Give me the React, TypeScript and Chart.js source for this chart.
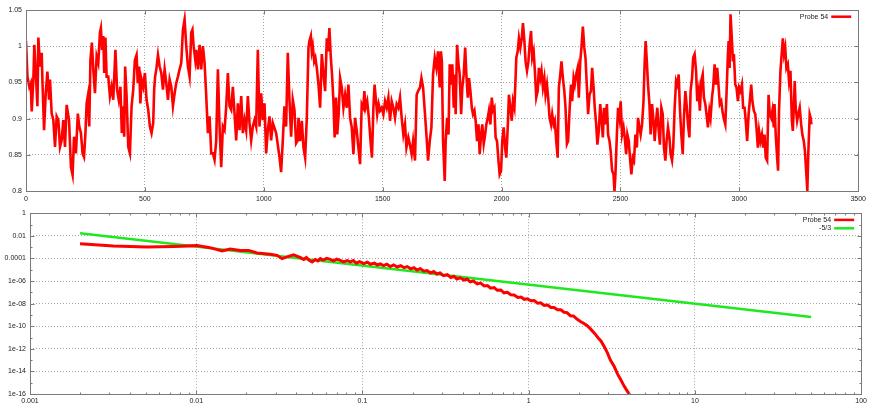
import React, { useEffect, useRef } from 'react';
import { Chart, registerables } from 'chart.js';

Chart.register(...registerables);

// ---------- Top panel: probe signal over time ----------
const probe54Samples: [number, number][] = [
  [0, 1.007], [6, 0.958], [14, 0.944], [20, 0.949], [24, 0.91], [31, 0.954], [35, 1.002], [42, 0.958], [48, 0.917], [52, 1.012],
  [59, 0.972], [66, 0.991], [69, 0.954], [76, 0.884], [83, 0.935], [90, 0.965], [97, 0.926], [101, 0.954], [108, 0.907], [115, 0.898],
  [122, 0.861], [129, 0.903], [136, 0.898], [143, 0.861], [150, 0.87], [157, 0.898], [164, 0.861], [171, 0.919], [181, 0.898], [189, 0.833],
  [196, 0.822], [202, 0.875], [210, 0.852], [218, 0.907], [224, 0.889], [231, 0.88], [238, 0.852], [244, 0.847], [250, 0.88], [255, 0.921],
  [260, 0.931], [266, 0.889], [271, 0.981], [277, 1.005], [283, 0.968], [290, 0.935], [297, 0.986], [304, 0.977], [311, 1.019], [315, 1.025],
  [320, 0.995], [325, 1.014], [329, 0.963], [334, 1.012], [339, 0.958], [346, 0.958], [353, 0.931], [360, 0.944], [367, 0.926], [376, 0.995],
  [383, 0.94], [390, 0.926], [397, 0.944], [403, 0.88], [409, 0.917], [413, 0.875], [417, 0.972], [423, 0.931], [430, 0.861], [437, 0.852],
  [444, 0.917], [451, 0.94], [458, 0.981], [465, 0.988], [470, 0.949], [476, 0.972], [481, 0.921], [486, 0.954], [493, 0.944], [500, 0.963],
  [507, 0.926], [514, 0.912], [521, 0.889], [528, 0.88], [535, 0.894], [539, 0.94], [543, 0.958], [548, 0.968], [555, 0.988], [562, 0.972],
  [569, 0.963], [576, 0.94], [583, 0.968], [590, 0.949], [597, 0.926], [604, 0.954], [611, 0.944], [618, 0.917], [625, 0.935], [632, 0.949],
  [639, 0.958], [646, 0.968], [653, 0.977], [660, 1.023], [667, 1.037], [674, 1.0], [681, 0.972], [688, 0.958], [695, 1.019], [700, 1.023],
  [705, 1.0], [712, 0.981], [716, 0.995], [723, 0.968], [730, 1.002], [737, 0.968], [744, 1.0], [751, 0.977], [758, 0.931], [765, 0.88],
  [772, 0.903], [779, 0.852], [786, 0.852], [793, 0.843], [800, 0.87], [807, 0.968], [814, 0.889], [821, 0.833], [828, 0.889], [835, 0.884],
  [842, 0.917], [849, 0.963], [856, 0.917], [863, 0.912], [870, 0.944], [877, 0.907], [884, 0.87], [891, 0.921], [898, 0.884], [905, 0.931],
  [912, 0.88], [919, 0.898], [926, 0.884], [933, 0.931], [940, 0.894], [947, 0.87], [954, 0.889], [961, 0.898], [968, 0.889], [975, 0.995],
  [982, 0.889], [989, 0.935], [996, 0.898], [1003, 0.921], [1010, 0.852], [1017, 0.884], [1024, 0.903], [1031, 0.87], [1038, 0.894], [1052, 0.88],
  [1066, 0.847], [1073, 0.826], [1080, 0.87], [1087, 0.917], [1094, 0.889], [1101, 0.991], [1108, 0.926], [1115, 0.875], [1122, 0.926], [1129, 0.912],
  [1136, 0.866], [1143, 0.87], [1146, 0.901], [1153, 0.869], [1160, 0.897], [1167, 0.86], [1174, 0.846], [1181, 0.901], [1188, 0.998], [1192, 1.007],
  [1198, 1.014], [1202, 0.993], [1206, 1.0], [1212, 0.979], [1217, 0.984], [1223, 0.97], [1230, 0.947], [1237, 0.915], [1244, 0.989], [1251, 0.961],
  [1258, 0.938], [1265, 1.011], [1270, 0.993], [1276, 1.025], [1282, 0.984], [1287, 0.961], [1293, 0.924], [1298, 0.874], [1304, 0.929], [1309, 0.878],
  [1315, 0.906], [1321, 0.956], [1328, 0.943], [1335, 0.915], [1342, 0.933], [1349, 0.915], [1356, 0.947], [1363, 0.901], [1370, 0.888], [1377, 0.851],
  [1384, 0.901], [1391, 0.883], [1398, 0.86], [1405, 0.837], [1412, 0.92], [1419, 0.915], [1423, 0.938], [1428, 0.915], [1435, 0.924], [1442, 0.901],
  [1449, 0.869], [1455, 0.846], [1461, 0.915], [1466, 0.947], [1472, 0.924], [1477, 0.906], [1483, 0.92], [1489, 0.911], [1496, 0.915], [1503, 0.906],
  [1510, 0.924], [1517, 0.915], [1524, 0.929], [1531, 0.897], [1538, 0.924], [1545, 0.915], [1552, 0.901], [1559, 0.92], [1566, 0.915], [1573, 0.929],
  [1580, 0.901], [1587, 0.878], [1594, 0.892], [1600, 0.86], [1608, 0.874], [1614, 0.865], [1622, 0.851], [1628, 0.869], [1636, 0.842], [1643, 0.933],
  [1649, 0.938], [1657, 0.943], [1663, 0.956], [1670, 0.943], [1677, 0.911], [1684, 0.878], [1691, 0.842], [1698, 0.869], [1705, 0.888], [1712, 0.961],
  [1719, 0.984], [1726, 0.97], [1733, 0.993], [1740, 0.943], [1745, 0.993], [1749, 0.979], [1754, 0.869], [1761, 0.814], [1765, 0.869], [1771, 0.901],
  [1777, 0.878], [1782, 0.975], [1788, 0.947], [1793, 0.975], [1799, 0.915], [1803, 0.961], [1807, 0.906], [1813, 1.002], [1819, 0.975], [1824, 0.961],
  [1830, 0.906], [1835, 0.943], [1841, 0.961], [1847, 0.998], [1852, 0.961], [1858, 0.929], [1863, 0.956], [1869, 0.938], [1875, 0.915], [1880, 0.906],
  [1886, 0.911], [1891, 0.897], [1897, 0.869], [1903, 0.892], [1908, 0.851], [1914, 0.878], [1919, 0.892], [1925, 0.865], [1931, 0.878], [1936, 0.892],
  [1942, 0.901], [1947, 0.911], [1953, 0.892], [1959, 0.929], [1964, 0.911], [1970, 0.915], [1975, 0.874], [1981, 0.869], [1987, 0.842], [1992, 0.823],
  [1998, 0.828], [2003, 0.869], [2009, 0.888], [2015, 0.86], [2020, 0.846], [2026, 0.888], [2031, 0.933], [2037, 0.915], [2043, 0.897], [2048, 0.924],
  [2054, 0.915], [2059, 0.956], [2062, 0.984], [2068, 0.993], [2073, 1.011], [2079, 0.998], [2085, 1.011], [2090, 1.032], [2096, 1.007], [2101, 0.979],
  [2107, 0.966], [2113, 0.979], [2118, 1.002], [2124, 1.021], [2129, 0.984], [2135, 0.993], [2141, 0.961], [2146, 0.929], [2152, 0.938], [2157, 0.97],
  [2163, 0.956], [2168, 0.966], [2174, 0.943], [2180, 0.956], [2185, 0.933], [2191, 0.947], [2196, 0.929], [2202, 0.901], [2208, 0.892], [2213, 0.906],
  [2219, 0.892], [2224, 0.897], [2230, 0.869], [2236, 0.846], [2241, 0.943], [2247, 0.961], [2252, 0.979], [2258, 0.956], [2264, 0.938], [2269, 0.915],
  [2275, 0.865], [2280, 0.869], [2286, 0.911], [2292, 0.947], [2297, 0.924], [2303, 0.956], [2308, 0.947], [2314, 0.961], [2320, 0.97], [2325, 0.929],
  [2331, 0.979], [2336, 0.998], [2342, 1.027], [2348, 0.998], [2353, 0.984], [2359, 0.943], [2364, 0.906], [2370, 0.933], [2376, 0.938], [2381, 0.97],
  [2387, 0.943], [2392, 0.915], [2398, 0.892], [2403, 0.864], [2409, 0.883], [2415, 0.92], [2420, 0.901], [2426, 0.874], [2431, 0.915], [2437, 0.892],
  [2443, 0.92], [2448, 0.878], [2454, 0.869], [2459, 0.855], [2465, 0.828], [2471, 0.823], [2475, 0.8], [2479, 0.823], [2485, 0.878], [2490, 0.915],
  [2496, 0.901], [2501, 0.924], [2507, 0.878], [2513, 0.888], [2518, 0.874], [2524, 0.851], [2529, 0.878], [2535, 0.869], [2541, 0.842], [2546, 0.823],
  [2552, 0.846], [2557, 0.842], [2563, 0.878], [2569, 0.86], [2574, 0.901], [2580, 0.888], [2585, 0.878], [2591, 0.892], [2597, 0.924], [2602, 0.979],
  [2606, 1.007], [2611, 0.979], [2616, 0.947], [2622, 0.92], [2627, 0.878], [2633, 0.92], [2639, 0.897], [2644, 0.869], [2650, 0.897], [2655, 0.915],
  [2661, 0.883], [2666, 0.864], [2672, 0.915], [2678, 0.906], [2683, 0.86], [2689, 0.842], [2694, 0.869], [2700, 0.888], [2706, 0.874], [2711, 0.851],
  [2717, 0.842], [2722, 0.86], [2728, 0.915], [2734, 0.952], [2739, 0.947], [2745, 0.961], [2750, 0.915], [2756, 0.878], [2762, 0.851], [2767, 0.901],
  [2773, 0.938], [2778, 0.92], [2784, 0.892], [2790, 0.874], [2795, 0.938], [2801, 0.956], [2806, 0.984], [2812, 0.989], [2818, 0.966], [2823, 0.924],
  [2829, 0.938], [2834, 0.911], [2840, 0.952], [2846, 0.961], [2851, 0.929], [2857, 0.92], [2862, 0.906], [2868, 0.888], [2874, 0.911], [2879, 0.901],
  [2885, 0.929], [2890, 0.943], [2896, 0.975], [2902, 0.947], [2907, 0.97], [2913, 0.943], [2918, 0.92], [2924, 0.924], [2930, 0.908], [2935, 0.9],
  [2941, 0.892], [2946, 0.933], [2952, 0.989], [2955, 1.007], [2959, 0.97], [2963, 1.044], [2969, 1.007], [2973, 0.979], [2977, 0.989], [2983, 0.947],
  [2988, 0.943], [2994, 0.924], [2999, 0.943], [3005, 0.938], [3011, 0.947], [3016, 0.915], [3022, 0.915], [3027, 0.897], [3033, 0.869], [3039, 0.906],
  [3044, 0.924], [3050, 0.947], [3055, 0.924], [3061, 0.911], [3067, 0.906], [3072, 0.888], [3078, 0.86], [3083, 0.883], [3089, 0.869], [3095, 0.878],
  [3100, 0.86], [3106, 0.878], [3111, 0.846], [3117, 0.842], [3123, 0.933], [3128, 0.906], [3134, 0.901], [3139, 0.911], [3145, 0.888], [3148, 0.92],
  [3153, 0.878], [3159, 0.846], [3163, 0.828], [3167, 0.911], [3173, 0.966], [3179, 0.993], [3183, 1.011], [3188, 0.989], [3193, 0.998], [3198, 0.97],
  [3204, 0.975], [3209, 0.952], [3215, 0.966], [3221, 0.897], [3225, 0.883], [3229, 0.915], [3233, 0.952], [3237, 0.915], [3243, 0.897], [3248, 0.906],
  [3254, 0.915], [3260, 0.892], [3265, 0.878], [3271, 0.869], [3276, 0.855], [3282, 0.823], [3286, 0.8], [3290, 0.851], [3296, 0.906], [3300, 0.901],
  [3303, 0.892],
];
const timeTicks = [0, 500, 1000, 1500, 2000, 2500, 3000, 3500];
const levelTicks = [0.8, 0.85, 0.9, 0.95, 1, 1.05];
const levelLabels = ['0.8', '0.85', '0.9', '0.95', '1', '1.05'];

// ---------- Bottom panel: spectrum ----------
const spectrumFreq = [
  0.002, 0.00318, 0.00505, 0.0073, 0.0101, 0.0121, 0.0143, 0.016, 0.0184, 0.0207,
  0.0232, 0.0279, 0.0306, 0.0328, 0.0352, 0.0385, 0.0424, 0.0443, 0.046, 0.048,
  0.0498, 0.052, 0.054, 0.0558, 0.058, 0.061, 0.0641, 0.067, 0.07, 0.0736,
  0.077, 0.081, 0.0847, 0.088, 0.092, 0.096, 0.102, 0.107, 0.112, 0.118,
  0.123, 0.128, 0.134, 0.14, 0.147, 0.154, 0.162, 0.17, 0.178, 0.186,
  0.195, 0.204, 0.213, 0.223, 0.234, 0.245, 0.257, 0.268, 0.28, 0.293,
  0.307, 0.324, 0.34, 0.355, 0.37, 0.388, 0.407, 0.425, 0.445, 0.465,
  0.49, 0.514, 0.54, 0.565, 0.59, 0.62, 0.647, 0.68, 0.71, 0.745,
  0.78, 0.817, 0.86, 0.9, 0.94, 0.98, 1.03, 1.08, 1.13, 1.18,
  1.24, 1.3, 1.36, 1.42, 1.49, 1.56, 1.63, 1.7, 1.78, 1.86,
  1.95, 2.06, 2.15, 2.25, 2.36, 2.5, 2.62, 2.72, 2.85, 2.98,
  3.1, 3.27, 3.42, 3.58, 3.75, 3.9, 4.02, 4.3,
];
const spectrumPower = [
  2.0e-3, 1.23e-3, 1.0e-3, 1.15e-3, 1.35e-3, 8.9e-4, 4.5e-4, 6.8e-4, 5.1e-4, 5.1e-4,
  3.0e-4, 2.3e-4, 1.86e-4, 9.5e-5, 1.35e-4, 2.1e-4, 1.17e-4, 7.9e-5, 1.2e-4, 6.5e-5,
  4.9e-5, 8.0e-5, 6.0e-5, 9.5e-5, 7.0e-5, 1.0e-4, 8.3e-5, 6.2e-5, 8.5e-5, 6.8e-5,
  5.0e-5, 6.5e-5, 4.9e-5, 6.5e-5, 3.8e-5, 5.2e-5, 3.5e-5, 4.6e-5, 3.0e-5, 3.8e-5,
  2.6e-5, 3.3e-5, 2.3e-5, 3.0e-5, 1.9e-5, 2.6e-5, 1.74e-5, 2.3e-5, 1.5e-5, 1.9e-5,
  1.2e-5, 1.5e-5, 9.5e-6, 1.25e-5, 7.5e-6, 8.5e-6, 5.1e-6, 7.0e-6, 4.2e-6, 5.2e-6,
  3.0e-6, 3.6e-6, 2.0e-6, 2.6e-6, 1.5e-6, 1.9e-6, 1.2e-6, 1.5e-6, 8.5e-7, 1.0e-6,
  5.5e-7, 6.5e-7, 3.6e-7, 4.0e-7, 2.3e-7, 2.6e-7, 1.5e-7, 1.6e-7, 9.0e-8, 1.0e-7,
  6.0e-8, 5.8e-8, 3.5e-8, 3.8e-8, 2.4e-8, 2.7e-8, 1.8e-8, 1.9e-8, 1.1e-8, 1.2e-8,
  7.0e-9, 7.4e-9, 4.5e-9, 4.6e-9, 2.8e-9, 2.8e-9, 1.7e-9, 1.6e-9, 8.5e-10, 8.0e-10,
  4.3e-10, 2.5e-10, 1.7e-10, 1.1e-10, 5.5e-11, 2.2e-11, 9.0e-12, 5.0e-12, 1.5e-12, 4.1e-13,
  1.0e-13, 2.7e-14, 6.0e-15, 1.8e-15, 5.0e-16, 2.0e-16, 1.0e-16, 1.0e-17,
];
const slopeFreq = [0.002, 50];
const slopePower = [0.017, 6.5e-10];
const freqTicks = [0.001, 0.01, 0.1, 1, 10, 100];
const freqLabels = ['0.001', '0.01', '0.1', '1', '10', '100'];
const powerTicks = [1, 1e-2, 1e-4, 1e-6, 1e-8, 1e-10, 1e-12, 1e-14, 1e-16];
const powerLabels = ['1', '0.01', '0.0001', '1e-06', '1e-08', '1e-10', '1e-12', '1e-14', '1e-16'];

const RED = 'rgb(255,0,0)';
const GREEN = 'rgb(30,232,30)';
const FONT = { family: '"Liberation Sans", Arial, sans-serif', size: 7 };
const GRID = 'rgba(150,150,150,0.85)';

type TickMark = [number, number];
type LegendItem = { label: string; color: string };

function makeFramePlugin(xMarks: TickMark[], yMarks: TickMark[], legend: LegendItem[]) {
  return {
    id: 'gnuFrame',
    afterDraw(chart: any) {
      const { ctx, chartArea: a } = chart;
      const xs = chart.scales.x;
      const ys = chart.scales.y;
      const L = Math.round(a.left) + 0.5;
      const R = Math.round(a.right) + 0.5;
      const T = Math.round(a.top) + 0.5;
      const B = Math.round(a.bottom) + 0.5;
      ctx.save();
      ctx.strokeStyle = '#7a7a7a';
      ctx.lineWidth = 1;
      ctx.setLineDash([]);
      ctx.strokeRect(L, T, R - L, B - T);
      const seg = (x1: number, y1: number, x2: number, y2: number) => {
        ctx.beginPath();
        ctx.moveTo(x1, y1);
        ctx.lineTo(x2, y2);
        ctx.stroke();
      };
      for (const [v, len] of xMarks) {
        const px = Math.round(xs.getPixelForValue(v)) + 0.5;
        seg(px, B, px, B - len);
        seg(px, T, px, T + len);
      }
      for (const [v, len] of yMarks) {
        const py = Math.round(ys.getPixelForValue(v)) + 0.5;
        seg(L, py, L + len, py);
        seg(R, py, R - len, py);
      }
      ctx.font = `${FONT.size}px ${FONT.family}`;
      ctx.textAlign = 'right';
      ctx.textBaseline = 'middle';
      legend.forEach((item, i) => {
        const y = a.top + 6.7 + i * 8.4;
        ctx.fillStyle = '#222';
        ctx.fillText(item.label, a.right - 30, y);
        ctx.strokeStyle = item.color;
        ctx.lineWidth = 2.5;
        seg(a.right - 27, y, a.right - 7, y);
      });
      ctx.restore();
    },
  };
}

function axisCommon(width?: number, height?: number) {
  return {
    grid: { color: GRID, lineWidth: 1, drawTicks: false },
    border: { display: false, dash: [1, 2] },
    ticks: { font: FONT, color: '#222', maxRotation: 0, autoSkip: false },
    afterFit: (scale: any) => {
      if (width !== undefined) scale.width = width;
      if (height !== undefined) scale.height = height;
    },
  };
}

function TimeChart() {
  const ref = useRef<HTMLCanvasElement | null>(null);
  useEffect(() => {
    if (!ref.current) return;
    const xMarks: TickMark[] = timeTicks.map((t) => [t, 4]);
    const yMarks: TickMark[] = levelTicks.map((t) => [t, 4]);
    const xBase = axisCommon(undefined, 14);
    const yBase = axisCommon(26, undefined);
    const chart = new Chart(ref.current, {
      type: 'line',
      data: {
        datasets: [
          {
            label: 'Probe 54',
            data: probe54Samples.map(([t, v]) => ({ x: t, y: v })),
            borderColor: RED,
            borderWidth: 2.6,
            pointRadius: 0,
            tension: 0,
            fill: false,
          },
        ],
      },
      options: {
        animation: false,
        responsive: false,
        maintainAspectRatio: false,
        layout: { padding: { top: 10, right: 10, left: 0, bottom: 0 } },
        plugins: { legend: { display: false }, tooltip: { enabled: false } },
        scales: {
          x: {
            ...xBase,
            type: 'linear',
            min: 0,
            max: 3500,
            afterBuildTicks: (s: any) => { s.ticks = timeTicks.map((v) => ({ value: v })); },
            ticks: { ...xBase.ticks, padding: 4, callback: (v: any) => String(v) },
          },
          y: {
            ...yBase,
            type: 'linear',
            min: 0.8,
            max: 1.05,
            afterBuildTicks: (s: any) => { s.ticks = levelTicks.map((v) => ({ value: v })); },
            ticks: {
              ...yBase.ticks,
              padding: 4,
              callback: (v: any) => {
                const i = levelTicks.findIndex((t) => Math.abs(t - v) < 1e-9);
                return i >= 0 ? levelLabels[i] : '';
              },
            },
          },
        },
      } as any,
      plugins: [makeFramePlugin(xMarks, yMarks, [{ label: 'Probe 54', color: RED }])],
    });
    return () => chart.destroy();
  }, []);
  return <canvas ref={ref} width={870} height={205} style={{ display: 'block', width: 870, height: 205 }} />;
}

function SpectrumChart() {
  const ref = useRef<HTMLCanvasElement | null>(null);
  useEffect(() => {
    if (!ref.current) return;
    const xMarks: TickMark[] = [];
    freqTicks.forEach((d, i) => {
      xMarks.push([d, 4]);
      if (i < freqTicks.length - 1) {
        for (let m = 2; m <= 9; m++) xMarks.push([d * m, 2]);
      }
    });
    const yMarks: TickMark[] = [];
    powerTicks.forEach((d, i) => {
      yMarks.push([d, 4]);
      if (i < powerTicks.length - 1) yMarks.push([d / 10, 2]);
    });
    const xBase = axisCommon(undefined, 13);
    const yBase = axisCommon(30, undefined);
    const chart = new Chart(ref.current, {
      type: 'line',
      data: {
        datasets: [
          {
            label: 'Probe 54',
            data: spectrumFreq.map((f, i) => ({ x: f, y: spectrumPower[i] })),
            borderColor: RED,
            borderWidth: 3,
            pointRadius: 0,
            tension: 0,
            fill: false,
          },
          {
            label: '-5/3',
            data: slopeFreq.map((f, i) => ({ x: f, y: slopePower[i] })),
            borderColor: GREEN,
            borderWidth: 2.5,
            pointRadius: 0,
            tension: 0,
            fill: false,
          },
        ],
      },
      options: {
        animation: false,
        responsive: false,
        maintainAspectRatio: false,
        layout: { padding: { top: 8, right: 8, left: 0, bottom: 0 } },
        plugins: { legend: { display: false }, tooltip: { enabled: false } },
        scales: {
          x: {
            ...xBase,
            type: 'logarithmic',
            min: 0.001,
            max: 100,
            afterBuildTicks: (s: any) => { s.ticks = freqTicks.map((v) => ({ value: v })); },
            ticks: {
              ...xBase.ticks,
              padding: 3,
              callback: (v: any) => {
                const i = freqTicks.findIndex((t) => Math.abs(Math.log10(t) - Math.log10(v)) < 1e-6);
                return i >= 0 ? freqLabels[i] : '';
              },
            },
          },
          y: {
            ...yBase,
            type: 'logarithmic',
            min: 1e-16,
            max: 1,
            afterBuildTicks: (s: any) => { s.ticks = powerTicks.map((v) => ({ value: v })); },
            ticks: {
              ...yBase.ticks,
              padding: 4,
              callback: (v: any) => {
                const i = powerTicks.findIndex((t) => Math.abs(Math.log10(t) - Math.log10(v)) < 1e-6);
                return i >= 0 ? powerLabels[i] : '';
              },
            },
          },
        },
      } as any,
      plugins: [
        makeFramePlugin(xMarks, yMarks, [
          { label: 'Probe 54', color: RED },
          { label: '-5/3', color: GREEN },
        ]),
      ],
    });
    return () => chart.destroy();
  }, []);
  return <canvas ref={ref} width={870} height={202} style={{ display: 'block', width: 870, height: 202 }} />;
}

export default function App() {
  return (
    <div style={{ position: 'absolute', left: 0, top: 0, width: 870, height: 407, background: '#fff' }}>
      <TimeChart />
      <SpectrumChart />
    </div>
  );
}
